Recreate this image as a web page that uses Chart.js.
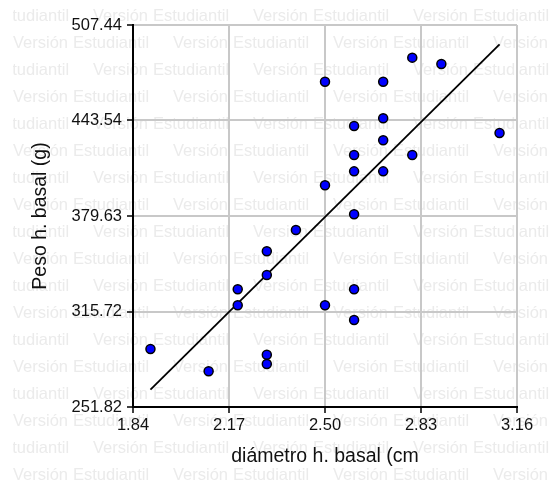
<!DOCTYPE html>
<html>
<head>
<meta charset="utf-8">
<script src="https://cdn.jsdelivr.net/npm/chart.js@4"></script>
<style>
  html, body { margin: 0; padding: 0; background: #fff; }
</style>
</head>
<body>
<canvas id="myChart" width="549" height="488"></canvas>
<script>
// diámetro (cm) / peso (g) pairs
const diametro = [1.90, 2.10, 2.20, 2.20, 2.30, 2.30, 2.30, 2.30, 2.40, 2.50, 2.50, 2.50, 2.60,
                  2.60, 2.60, 2.60, 2.60, 2.60, 2.70, 2.70, 2.70, 2.70, 2.80, 2.80, 2.90, 3.10];
const peso = [290.6, 275.7, 330.6, 319.9, 356.0, 340.2, 286.8, 280.6, 370.3, 469.5, 400.2, 319.9, 439.8,
              420.5, 409.5, 380.8, 330.6, 310.0, 469.5, 445.0, 430.3, 409.5, 485.6, 420.5, 481.3, 435.2];

// fitted line end points
const lineX = [1.90, 3.10];
const lineY = [263.4, 494.5];

const xTicks = [1.84, 2.17, 2.50, 2.83, 3.16];
const xTickLabels = ['1.84', '2.17', '2.50', '2.83', '3.16'];
const yTicks = [251.82, 315.72, 379.63, 443.54, 507.44];
const yTickLabels = ['251.82', '315.72', '379.63', '443.54', '507.44'];

const labelFont = { family: '"Liberation Sans", Arial, sans-serif', size: 16.5 };
const titleFont = { family: '"Liberation Sans", Arial, sans-serif', size: 19.5 };

// "Versión Estudiantil" background text
const watermark = {
    id: 'watermark',
    beforeDraw(chart) {
        const ctx = chart.ctx;
        ctx.save();
        ctx.beginPath();
        ctx.rect(13, 0, chart.width - 13, chart.height);
        ctx.clip();
        ctx.font = '16.5px "Liberation Sans"';
        ctx.fillStyle = '#ebebeb';
        ctx.textBaseline = 'middle';
        for (let row = 0; row < 18; row++) {
            const y = 16.3 + row * 27;
            const shift = row % 2 === 0 ? 80 : 0;
            for (let x = 13 + shift - 160; x < chart.width; x += 160) {
                ctx.fillText('Versión', x, y);
                ctx.fillText('Estudiantil', x + 60, y);
            }
        }
        ctx.restore();
    }
};

const data = {
    datasets: [{
        label: 'puntos',
        data: diametro.map((d, i) => { return { x: d, y: peso[i] } }),
        backgroundColor: '#0000ff',
        borderColor: '#000000',
        borderWidth: 1.5,
        pointRadius: 4.5,
        order: 0
    },
    {
        label: 'ajuste',
        data: lineX.map((d, i) => { return { x: d, y: lineY[i] } }),
        showLine: true,
        borderColor: '#000000',
        borderWidth: 1.8,
        pointRadius: 0,
        order: 1
    }]
};

const config = {
    type: 'scatter',
    data: data,
    options: {
        responsive: false,
        animation: false,
        layout: { padding: { left: 0, top: 25, right: 32, bottom: 0 } },
        plugins: { legend: { display: false }, tooltip: { enabled: false } },
        scales: {
            x: {
                type: 'linear',
                min: 1.84,
                max: 3.16,
                afterBuildTicks: (s) => { s.ticks = xTicks.map((v) => { return { value: v } }) },
                afterFit: (s) => { s.height = 81; s.paddingLeft = 0; s.paddingRight = 0 },
                ticks: {
                    callback: (v, i) => xTickLabels[i],
                    color: '#111',
                    font: labelFont,
                    padding: 3,
                    maxRotation: 0,
                    autoSkip: false
                },
                grid: { color: '#c8c8c8', lineWidth: 2, tickColor: '#000', tickLength: 6, tickWidth: 1.5 },
                border: { color: '#000', width: 2 },
                title: { display: true, text: 'diámetro h. basal (cm', color: '#111', font: titleFont, padding: { bottom: 20 } }
            },
            y: {
                type: 'linear',
                min: 251.82,
                max: 507.44,
                afterBuildTicks: (s) => { s.ticks = yTicks.map((v) => { return { value: v } }) },
                afterFit: (s) => { s.width = 133; s.paddingTop = 0; s.paddingBottom = 0 },
                ticks: {
                    callback: (v, i) => yTickLabels[i],
                    color: '#111',
                    font: labelFont,
                    padding: 5,
                    autoSkip: false
                },
                grid: { color: '#c8c8c8', lineWidth: 2, tickColor: '#000', tickLength: 6, tickWidth: 1.5 },
                border: { color: '#000', width: 2 },
                title: { display: true, text: 'Peso h. basal (g)', color: '#111', font: titleFont, padding: { top: 29 } }
            }
        }
    },
    plugins: [watermark]
};

myChart = new Chart(document.getElementById('myChart'), config);
</script>
</body>
</html>
